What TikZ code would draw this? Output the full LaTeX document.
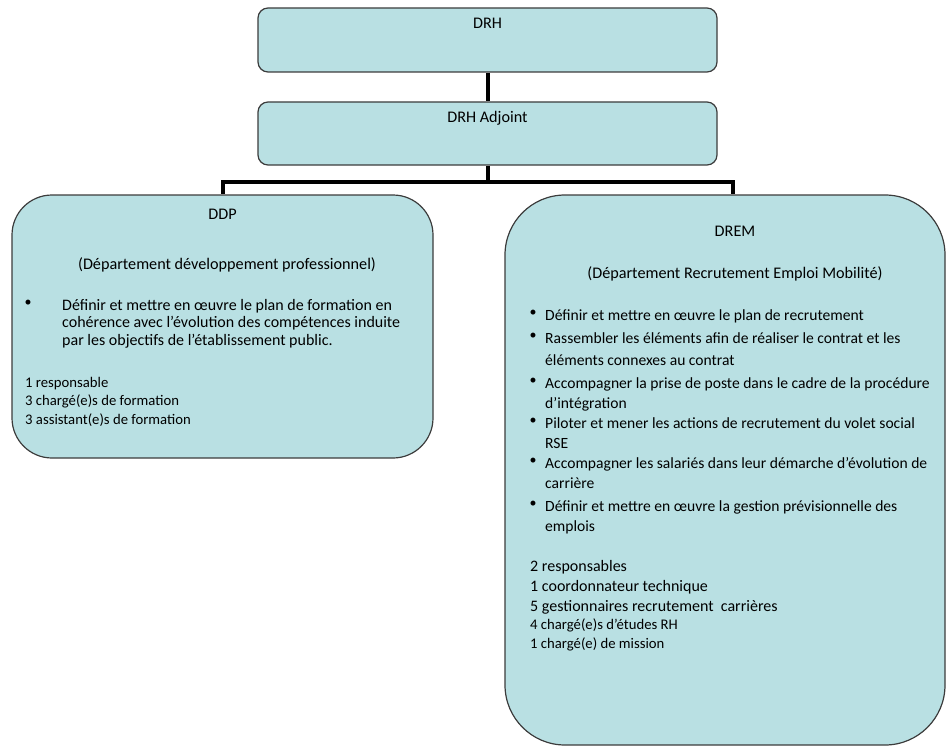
\documentclass[tikz,border=0pt]{standalone}
\usepackage{fontspec}
\setmainfont{Carlito}
\usetikzlibrary{positioning}
\definecolor{boxfill}{RGB}{185,224,227}
\definecolor{boxline}{RGB}{60,60,60}

\begin{document}
\begin{tikzpicture}[x=1pt,y=-1pt]
\tikzset{topbox/.style = {draw=boxline,fill=boxfill,line width=1.2pt,rounded corners=10pt,inner sep=0pt}}
\tikzset{deptbox/.style = {draw=boxline,fill=boxfill,line width=1.2pt,inner sep=0pt}}
\tikzset{link/.style = {line width=4pt,black}}
\tikzset{head/.style = {anchor=base,inner sep=0pt,font=\fontsize{16.2}{18}\selectfont}}
\tikzset{item/.style = {anchor=north west,inner sep=0pt,align=left,font=\fontsize{15.6}{20}\selectfont}}
\tikzset{dot/.style = {anchor=north,inner sep=0pt,font=\fontsize{14}{20}\selectfont}}
\tikzset{staff/.style = {anchor=north west,inner sep=0pt,align=left,font=\fontsize{14.7}{18.5}\selectfont}}
\useasboundingbox (0,0) rectangle (950,749);
% boxes
\node[topbox,minimum width=459pt,minimum height=64pt] (drh) at (487.5,40) {};
\node[topbox,minimum width=459pt,minimum height=63pt] (adj) at (487.5,133.5) {};
\node[deptbox,rounded corners=40pt,minimum width=421pt,minimum height=263pt] (ddp) at (222.5,326.5) {};
\node[deptbox,rounded corners=60pt,minimum width=440pt,minimum height=550pt] (drem) at (725,470) {};
% labels
\node[head] (drhname) at (487.5,29) {DRH};
\node[head] (adjname) at (487.5,123) {DRH Adjoint};
\node[head] (ddpname) at (222.5,219) {DDP};
\node[head] (ddplong) at (227,269) {(Département développement professionnel)};
\node[head] (dremname) at (735,236) {DREM};
\node[head] (dremlong) at (735,278) {(Département Recrutement Emploi Mobilité)};
% ddp tasks
\node[dot] (d1) at (28,300) {•};
\node[item,font=\fontsize{16}{17.5}\selectfont] (t1) at (62,299) {Définir et mettre en œuvre le plan de formation en\\cohérence avec l'évolution des compétences induite\\par les objectifs de l’établissement public.};
\node[staff] (s1) at (25,377) {1 responsable\\3 chargé(e)s de formation\\3 assistant(e)s de formation};
% drem tasks
\node[dot] (b1) at (533,310) {•};
\node[item] (r1) at (545,309) {Définir et mettre en œuvre le plan de recrutement};
\node[dot] (b2) at (533,333) {•};
\node[item,font=\fontsize{15.6}{22.5}\selectfont] (r2) at (545,332) {Rassembler les éléments afin de réaliser le contrat et les\\éléments connexes au contrat};
\node[dot] (b3) at (533,378) {•};
\node[item] (r3) at (545,377) {Accompagner la prise de poste dans le cadre de la procédure\\d’intégration};
\node[dot] (b4) at (533,418) {•};
\node[item] (r4) at (545,417) {Piloter et mener les actions de recrutement du volet social\\RSE};
\node[dot] (b5) at (533,458) {•};
\node[item] (r5) at (545,457) {Accompagner les salariés dans leur démarche d’évolution de\\carrière};
\node[dot] (b6) at (533,501) {•};
\node[item] (r6) at (545,500) {Définir et mettre en œuvre la gestion prévisionnelle des\\emplois};
\node[staff,font=\fontsize{16}{20}\selectfont] (s2) at (530,560) {2 responsables\\1 coordonnateur technique\\5 gestionnaires recrutement~ carrières};
\node[staff] (s3) at (530,619) {4 chargé(e)s d’études RH\\1 chargé(e) de mission};
% links
\draw[link] (drh) -- (adj);
\draw[link] (adj.south) -- ++(0,16) coordinate (bar) -| (ddp.north);
\draw[link] (bar) -| ([xshift=8pt]drem.north);
\end{tikzpicture}
\end{document}
